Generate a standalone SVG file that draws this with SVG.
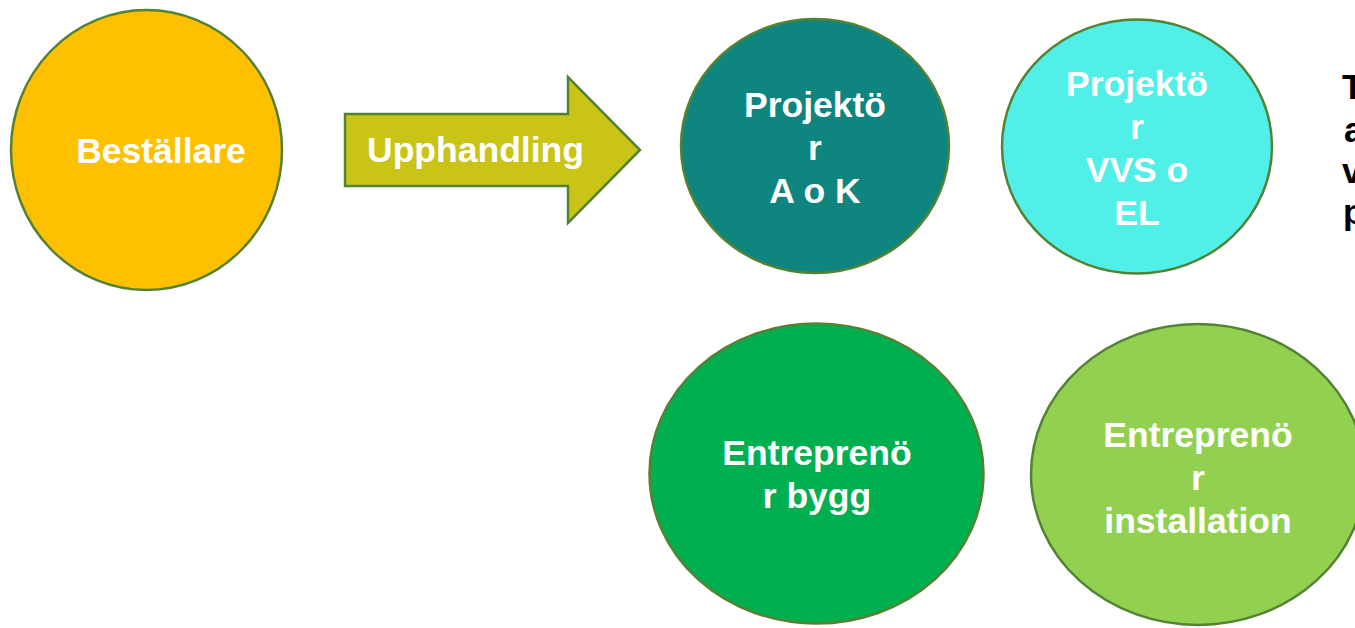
<svg xmlns="http://www.w3.org/2000/svg" width="1355" height="628" viewBox="0 0 1355 628">
<style>
.node{stroke:#548235;stroke-width:2.5}
.lbl{font-family:"Liberation Sans",Arial,sans-serif;font-weight:bold;font-size:35.5px;fill:#FFFFFF;text-anchor:middle}
.side{font-family:"Liberation Sans",Arial,sans-serif;font-weight:bold;font-size:35px;fill:#000000}
</style>
<rect width="1355" height="628" fill="#FFFFFF"/>
<g id="connectors">
<g id="upphandling">
<polygon class="node" fill="#C9C416" points="345,114 568,114 568,77 640,150 568,223 568,186 345,186"/>
<text class="lbl" x="475.5" y="162">Upphandling</text>
</g>
</g>
<g id="bestallare">
<ellipse class="node" fill="#FFC000" cx="146.5" cy="150" rx="135.5" ry="140"/>
<text class="lbl" x="161" y="163">Beställare</text>
</g>
<g id="projektor-ak">
<ellipse class="node" fill="#0E857E" cx="815" cy="146" rx="134" ry="127"/>
<text class="lbl" x="815" y="117">Projektö</text>
<text class="lbl" x="815" y="160">r</text>
<text class="lbl" x="815" y="203">A o K</text>
</g>
<g id="projektor-vvs">
<ellipse class="node" fill="#50F0E8" cx="1137" cy="146.5" rx="135" ry="127"/>
<text class="lbl" x="1137" y="96">Projektö</text>
<text class="lbl" x="1137" y="139">r</text>
<text class="lbl" x="1137" y="182">VVS o</text>
<text class="lbl" x="1137" y="225">EL</text>
</g>
<g id="entreprenor-bygg">
<ellipse class="node" fill="#00B050" cx="816.5" cy="473.5" rx="167" ry="150"/>
<text class="lbl" x="817" y="465">Entreprenö</text>
<text class="lbl" x="817" y="508">r bygg</text>
</g>
<g id="entreprenor-installation">
<ellipse class="node" fill="#92D050" cx="1198" cy="474.5" rx="167" ry="150.5"/>
<text class="lbl" x="1198" y="447">Entreprenö</text>
<text class="lbl" x="1198" y="490">r</text>
<text class="lbl" x="1198" y="533">installation</text>
</g>
<g id="side-text">
<text class="side" x="1342" y="99">T</text>
<text class="side" x="1344" y="142">a</text>
<text class="side" x="1342" y="183">v</text>
<text class="side" x="1343" y="224">p</text>
</g>
</svg>
